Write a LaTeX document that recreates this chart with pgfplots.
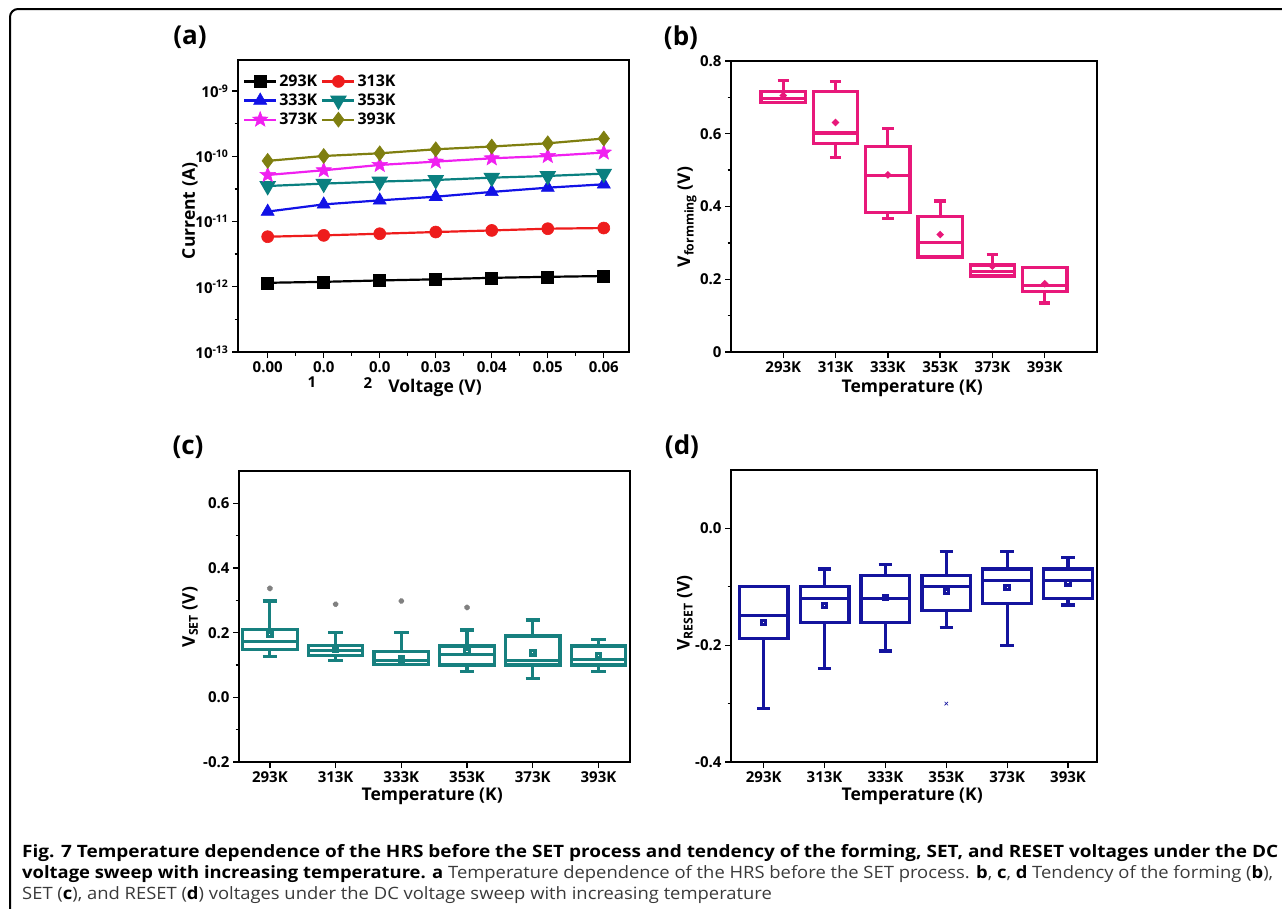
\documentclass[border=0pt]{standalone}
\usepackage{fontspec}
\setmainfont{Open Sans}
\usepackage{graphicx}
\usepackage{pgfplots}
\pgfplotsset{compat=1.18}
\usepgfplotslibrary{statistics}
\usetikzlibrary{plotmarks}
\definecolor{cB}{HTML}{E8187A}
\definecolor{cC}{HTML}{17807F}
\definecolor{cD}{HTML}{14149E}
\definecolor{aR}{HTML}{EE1C1C}
\definecolor{aBl}{HTML}{1212E6}
\definecolor{aT}{HTML}{0A8080}
\definecolor{aM}{HTML}{F020F0}
\definecolor{aO}{HTML}{7F7F10}
\definecolor{capg}{HTML}{3A3A3A}
\pgfdeclareplotmark{fstar}{%
 \pgfpathmoveto{\pgfpointpolar{90}{\pgfplotmarksize}}%
 \pgfpathlineto{\pgfpointpolar{126}{0.42\pgfplotmarksize}}%
 \pgfpathlineto{\pgfpointpolar{162}{\pgfplotmarksize}}%
 \pgfpathlineto{\pgfpointpolar{198}{0.42\pgfplotmarksize}}%
 \pgfpathlineto{\pgfpointpolar{234}{\pgfplotmarksize}}%
 \pgfpathlineto{\pgfpointpolar{270}{0.42\pgfplotmarksize}}%
 \pgfpathlineto{\pgfpointpolar{306}{\pgfplotmarksize}}%
 \pgfpathlineto{\pgfpointpolar{342}{0.42\pgfplotmarksize}}%
 \pgfpathlineto{\pgfpointpolar{18}{\pgfplotmarksize}}%
 \pgfpathlineto{\pgfpointpolar{54}{0.42\pgfplotmarksize}}%
 \pgfpathclose
 \pgfusepathqfillstroke}
\newcommand\tickfont{\fontsize{15}{17}\selectfont\bfseries}
\newcommand\labfont{\fontsize{17.5}{20}\selectfont\bfseries}
\newcommand\capfont{\fontsize{17}{20}\selectfont}
\newcommand\panfont{\fontsize{26}{28}\selectfont\bfseries}
\pgfplotsset{
 panel/.style={scale only axis, anchor=south west,
   tick align=outside, xtick pos=left, ytick pos=left,
   axis line style={line width=1.6pt},
   every tick/.style={black, line width=1.3pt},
   major tick length=6pt, minor tick length=3.5pt,
   tick label style={font=\tickfont},
   label style={font=\labfont},
   boxplot/draw direction=y},
 bx/.style={line width=3.2pt, mark options={solid, line width=0.6pt}},
}
\newlength\Lw
\begin{document}
\settowidth\Lw{\capfont\textbf{voltage sweep with increasing temperature. a} Temperature dependence of the HRS before the SET process. \textbf{b}, \textbf{c}, \textbf{d} Tendency of the forming (\textbf{b}),}%
\pgfmathsetmacro\capsc{1251/\Lw}%
\begin{tikzpicture}[x=1pt,y=-1pt]
\useasboundingbox (0,0) rectangle (1282,908);
% frame
\draw[line width=2pt, rounded corners=8pt] (10,910) -- (10,9) -- (1284,9);
% ---------------- (a)
\begin{axis}[panel, at={(238pt,-352pt)}, width=391pt, height=292pt,
  ymode=log, xmin=-0.0053, xmax=0.0645, ymin=1e-13, ymax=2.985e-9,
  scaled x ticks=false,
  xtick={0,0.01,0.02,0.03,0.04,0.05,0.06},
  xticklabels={0.00,0.0,0.0,0.03,0.04,0.05,0.06},
  minor xtick={0.005,0.015,0.025,0.035,0.045,0.055},
  ytick={1e-13,1e-12,1e-11,1e-10,1e-9},
  yticklabels={10\textsuperscript{-13},10\textsuperscript{-12},10\textsuperscript{-11},10\textsuperscript{-10},10\textsuperscript{-9}},
  minor ytick={3.162e-13,3.162e-12,3.162e-11,3.162e-10},
  xlabel={Voltage (V)}, ylabel={Current (A)},
  xlabel style={at={(axis description cs:0.504,-0.123)}, anchor=center},
  ylabel style={at={(axis description cs:-0.123,0.483)}, anchor=center},
  legend columns=2,
  legend style={at={(rel axis cs:0.01,0.96)}, anchor=north west, draw=none, fill=none,
     font=\fontsize{16}{20}\selectfont\bfseries, inner sep=1pt, row sep=2pt,
     /tikz/every even column/.append style={column sep=2pt}},
  legend image code/.code={\draw[mark repeat=2,mark phase=2] plot coordinates {(0pt,0pt) (16pt,0pt) (32pt,0pt)};},
  every axis plot/.append style={line width=2.2pt, mark options={solid, line width=0.6pt}},
]
\addplot[black, mark=square*, mark size=6pt] coordinates {(0,1.15e-12) (0.01,1.19e-12) (0.02,1.25e-12) (0.03,1.30e-12) (0.04,1.37e-12) (0.05,1.42e-12) (0.06,1.46e-12)};
\addplot[aR, mark=*, mark size=6pt] coordinates {(0,5.85e-12) (0.01,6.13e-12) (0.02,6.5e-12) (0.03,6.9e-12) (0.04,7.3e-12) (0.05,7.76e-12) (0.06,7.95e-12)};
\addplot[aBl, mark=triangle*, mark size=7.5pt] coordinates {(0,1.42e-11) (0.01,1.83e-11) (0.02,2.11e-11) (0.03,2.4e-11) (0.04,2.84e-11) (0.05,3.3e-11) (0.06,3.72e-11)};
\addplot[aT, mark=triangle*, mark size=7.5pt, mark options={rotate=180}] coordinates {(0,3.5e-11) (0.01,3.81e-11) (0.02,4.09e-11) (0.03,4.33e-11) (0.04,4.7e-11) (0.05,4.99e-11) (0.06,5.42e-11)};
\addplot[aM, mark=fstar, mark size=8pt] coordinates {(0,5.17e-11) (0.01,6.1e-11) (0.02,7.36e-11) (0.03,8.28e-11) (0.04,9.3e-11) (0.05,1.01e-10) (0.06,1.14e-10)};
\addplot[aO, mark=diamond*, mark size=7.5pt] coordinates {(0,8.5e-11) (0.01,1.01e-10) (0.02,1.11e-10) (0.03,1.28e-10) (0.04,1.41e-10) (0.05,1.58e-10) (0.06,1.87e-10)};
\legend{293K,313K,333K,353K,373K,393K}
\end{axis}
\node[font=\tickfont] at (312,382) {1};
\node[font=\tickfont] at (368,383) {2};
\node[font=\panfont] at (190,37) {(a)};
% ---------------- (b)
\begin{axis}[panel, at={(731pt,-352pt)}, width=366pt, height=291pt,
  xmin=-1, xmax=6, ymin=0, ymax=0.8,
  xtick={0,1,2,3,4,5}, xticklabels={293K,313K,333K,353K,373K,393K},
  ytick={0,0.2,0.4,0.6,0.8}, yticklabels={0,0.2,0.4,0.6,0.8},
  minor ytick={0.1,0.3,0.5,0.7},
  xlabel={Temperature (K)}, ylabel={V\textsubscript{formming} (V)},
  xlabel style={at={(axis description cs:0.495,-0.124)}, anchor=center},
  ylabel style={at={(axis description cs:-0.12,0.464)}, anchor=center},
  boxplot/box extend=0.85, boxplot/whisker extend=0.22,
  boxplot/every average/.style={/tikz/mark=*, /tikz/mark size=1.6pt},
]
\addplot[cB, bx, boxplot prepared={draw position=0, lower whisker=0.687, lower quartile=0.687, median=0.698, upper quartile=0.717, upper whisker=0.746, average=0.705}] coordinates {};
\addplot[cB, bx, boxplot prepared={draw position=1, lower whisker=0.535, lower quartile=0.574, median=0.602, upper quartile=0.717, upper whisker=0.743, average=0.631}] coordinates {};
\addplot[cB, bx, boxplot prepared={draw position=2, lower whisker=0.368, lower quartile=0.384, median=0.485, upper quartile=0.564, upper whisker=0.614, average=0.487}] coordinates {};
\addplot[cB, bx, boxplot prepared={draw position=3, lower whisker=0.261, lower quartile=0.261, median=0.302, upper quartile=0.373, upper whisker=0.415, average=0.323}] coordinates {};
\addplot[cB, bx, boxplot prepared={draw position=4, lower whisker=0.209, lower quartile=0.209, median=0.222, upper quartile=0.239, upper whisker=0.267, average=0.236}] coordinates {};
\addplot[cB, bx, boxplot prepared={draw position=5, lower whisker=0.135, lower quartile=0.166, median=0.183, upper quartile=0.233, upper whisker=0.233, average=0.1875}] coordinates {};
\end{axis}
\node[font=\panfont] at (681,38) {(b)};
% ---------------- (c)
\begin{axis}[panel, at={(239pt,-762pt)}, width=391pt, height=291pt,
  xmin=-0.47, xmax=5.48, ymin=-0.2, ymax=0.7,
  xtick={0,1,2,3,4,5}, xticklabels={293K,313K,333K,353K,373K,393K},
  ytick={-0.2,0,0.2,0.4,0.6}, yticklabels={-0.2,0.0,0.2,0.4,0.6},
  minor ytick={-0.1,0.1,0.3,0.5},
  xlabel={Temperature (K)}, ylabel={V\textsubscript{SET} (V)},
  xlabel style={at={(axis description cs:0.494,-0.117)}, anchor=center},
  ylabel style={at={(axis description cs:-0.125,0.498)}, anchor=center},
  boxplot/box extend=0.83, boxplot/whisker extend=0.22,
  boxplot/every average/.style={/tikz/mark=square, /tikz/mark size=2.2pt, /tikz/draw=gray, /tikz/line width=0.6pt},
]
\addplot[cC, bx, mark=x, mark size=2.5pt, mark options={gray}, boxplot prepared={draw position=0, lower whisker=0.126, lower quartile=0.149, median=0.172, upper quartile=0.209, upper whisker=0.298, average=0.195}] table[row sep=\\, y index=0] {0.337\\};
\addplot[cC, bx, mark=x, mark size=2.5pt, mark options={gray}, boxplot prepared={draw position=1, lower whisker=0.113, lower quartile=0.129, median=0.144, upper quartile=0.161, upper whisker=0.2, average=0.148}] table[row sep=\\, y index=0] {0.288\\};
\addplot[cC, bx, mark=x, mark size=2.5pt, mark options={gray}, boxplot prepared={draw position=2, lower whisker=0.101, lower quartile=0.101, median=0.113, upper quartile=0.141, upper whisker=0.2, average=0.118}] table[row sep=\\, y index=0] {0.298\\};
\addplot[cC, bx, mark=x, mark size=2.5pt, mark options={gray}, boxplot prepared={draw position=3, lower whisker=0.079, lower quartile=0.1, median=0.132, upper quartile=0.159, upper whisker=0.208, average=0.142}] table[row sep=\\, y index=0] {0.278\\};
\addplot[cC, bx, boxplot prepared={draw position=4, lower whisker=0.059, lower quartile=0.1, median=0.113, upper quartile=0.190, upper whisker=0.239, average=0.138}] coordinates {};
\addplot[cC, bx, boxplot prepared={draw position=5, lower whisker=0.08, lower quartile=0.1, median=0.118, upper quartile=0.159, upper whisker=0.18, average=0.129}] coordinates {};
\end{axis}
\node[font=\panfont] at (188,447) {(c)};
% ---------------- (d)
\begin{axis}[panel, at={(731pt,-762pt)}, width=366pt, height=292pt,
  xmin=-0.537, xmax=5.476, ymin=-0.4, ymax=0.1,
  xtick={0,1,2,3,4,5}, xticklabels={293K,313K,333K,353K,373K,393K},
  ytick={-0.4,-0.2,0}, yticklabels={-0.4,-0.2,0.0},
  minor ytick={-0.3,-0.1},
  xlabel={Temperature (K)}, ylabel={V\textsubscript{RESET} (V)},
  xlabel style={at={(axis description cs:0.495,-0.117)}, anchor=center},
  ylabel style={at={(axis description cs:-0.126,0.51)}, anchor=center},
  boxplot/box extend=0.8, boxplot/whisker extend=0.22,
  boxplot/every average/.style={/tikz/mark=square, /tikz/mark size=2.2pt, /tikz/draw=gray!60!black, /tikz/line width=0.6pt},
]
\addplot[cD, bx, boxplot prepared={draw position=0, lower whisker=-0.309, lower quartile=-0.189, median=-0.149, upper quartile=-0.1, upper whisker=-0.1, average=-0.161}] coordinates {};
\addplot[cD, bx, boxplot prepared={draw position=1, lower whisker=-0.24, lower quartile=-0.161, median=-0.12, upper quartile=-0.1, upper whisker=-0.0695, average=-0.132}] coordinates {};
\addplot[cD, bx, boxplot prepared={draw position=2, lower whisker=-0.21, lower quartile=-0.161, median=-0.12, upper quartile=-0.081, upper whisker=-0.062, average=-0.118}] coordinates {};
\addplot[cD, bx, mark=x, mark size=2.5pt, boxplot prepared={draw position=3, lower whisker=-0.169, lower quartile=-0.141, median=-0.1, upper quartile=-0.081, upper whisker=-0.040, average=-0.108}] table[row sep=\\, y index=0] {-0.300\\};
\addplot[cD, bx, boxplot prepared={draw position=4, lower whisker=-0.2, lower quartile=-0.129, median=-0.089, upper quartile=-0.0695, upper whisker=-0.040, average=-0.101}] coordinates {};
\addplot[cD, bx, boxplot prepared={draw position=5, lower whisker=-0.131, lower quartile=-0.12, median=-0.089, upper quartile=-0.0695, upper whisker=-0.0496, average=-0.093}] coordinates {};
\end{axis}
\node[font=\panfont] at (682,447) {(d)};
% ---------------- caption
\node[anchor=base west, inner sep=0pt, text=black] at (22,857)
 {\resizebox{1256pt}{\height}{\capfont\bfseries Fig. 7 Temperature dependence of the HRS before the SET process and tendency of the forming, SET, and RESET voltages under the DC}};
\node[anchor=base west, inner sep=0pt, text=capg] at (22,878)
 {\scalebox{\capsc}[1]{\capfont\textbf{\color{black}voltage sweep with increasing temperature. a} Temperature dependence of the HRS before the SET process. \textbf{\color{black}b}, \textbf{\color{black}c}, \textbf{\color{black}d} Tendency of the forming (\textbf{\color{black}b}),}};
\node[anchor=base west, inner sep=0pt, text=capg] at (22,899)
 {\scalebox{\capsc}[1]{\capfont SET (\textbf{\color{black}c}), and RESET (\textbf{\color{black}d}) voltages under the DC voltage sweep with increasing temperature}};
\end{tikzpicture}
\end{document}
